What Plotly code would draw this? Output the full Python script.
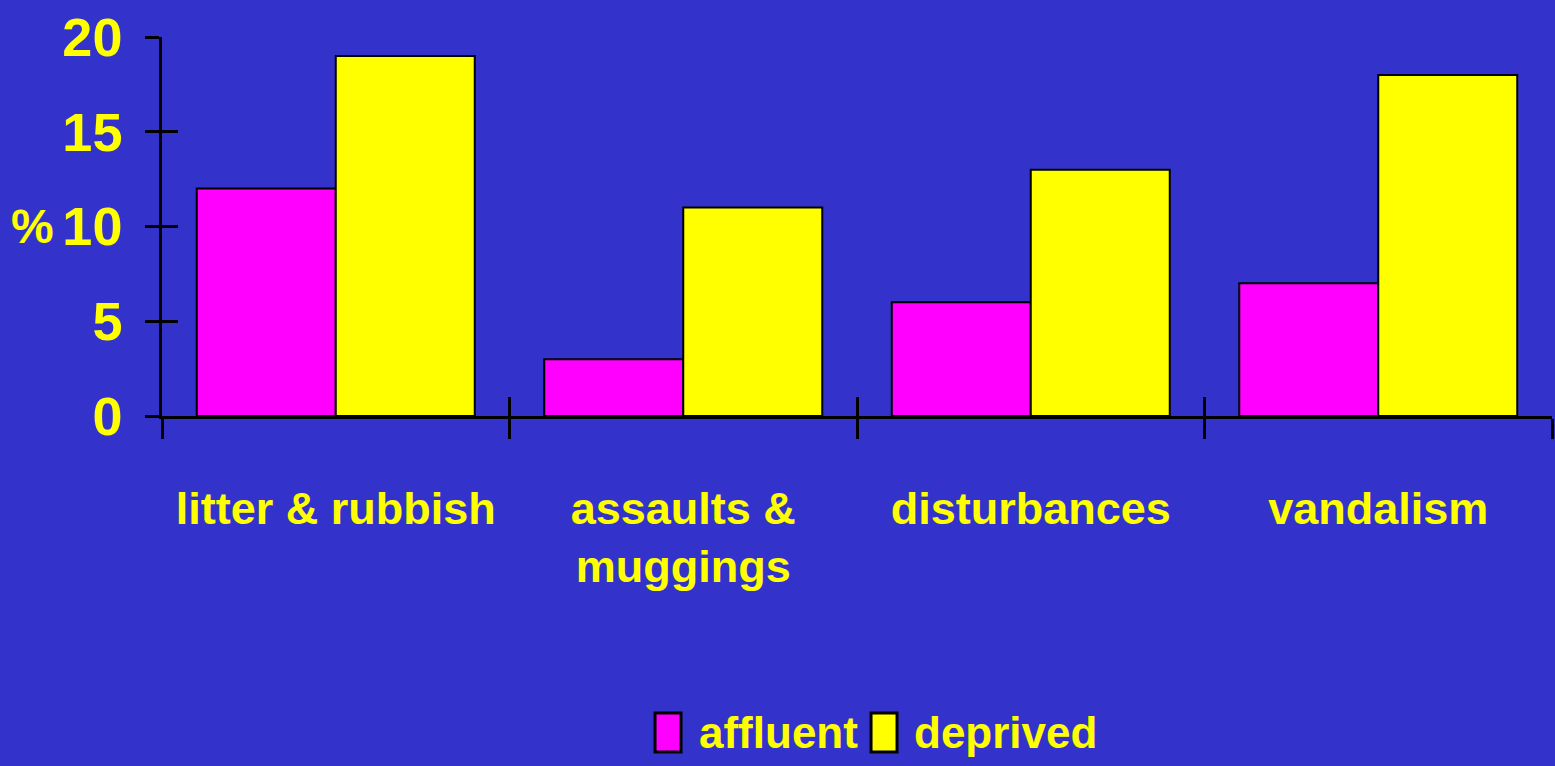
import plotly.graph_objects as go

categories = ["litter & rubbish", "assaults &<br>muggings", "disturbances", "vandalism"]
series_names = ["affluent", "deprived"]
affluent = [12, 3, 6, 7]
deprived = [19, 11, 13, 18]
series_values = [affluent, deprived]
series_colors = ["#FF00FF", "#FFFF00"]
y_ticks = [0, 5, 10, 15, 20]

BG = "#3333CC"
TXT = "#FFFF00"
FONT = "Liberation Sans, Arial, sans-serif"

fig = go.Figure()
for name, vals, col in zip(series_names, series_values, series_colors):
    fig.add_trace(go.Bar(
        x=categories, y=vals, name=name,
        marker=dict(color=col, line=dict(color="black", width=2)),
        showlegend=False,
    ))
# helper trace to activate overlay axes (for crossing tick marks)
fig.add_trace(go.Scatter(x=categories, y=[None] * len(categories), xaxis="x2", yaxis="y2",
                         mode="markers", showlegend=False, hoverinfo="skip"))

fig.update_layout(
    width=1555, height=766,
    paper_bgcolor=BG, plot_bgcolor=BG,
    margin=dict(l=162, r=3, t=37, b=350),
    barmode="group", bargap=0.2, bargroupgap=0,
    font=dict(family=FONT, color=TXT, size=45),
    xaxis=dict(
        type="category", categoryarray=categories, tickson="boundaries",
        ticks="outside", ticklen=20, tickwidth=2.5, tickcolor="black",
        showline=True, linecolor="black", linewidth=2.5,
        showgrid=False, zeroline=False, automargin=False, tickangle=0,
        tickfont=dict(family=FONT, size=45, color=TXT, weight="bold"),
        ticklabelstandoff=51,
    ),
    xaxis2=dict(
        overlaying="x", matches="x", type="category", tickson="boundaries",
        ticks="inside", ticklen=19, tickwidth=2.5, tickcolor="black",
        showticklabels=False, showline=False, showgrid=False, zeroline=False,
    ),
    yaxis=dict(
        range=[0, 20], tickvals=y_ticks,
        ticks="outside", ticklen=14, tickwidth=2.5, tickcolor="black",
        showline=True, linecolor="black", linewidth=2.5,
        showgrid=False, zeroline=False, automargin=False,
        tickfont=dict(family=FONT, size=54, color=TXT, weight="bold"),
        ticklabelstandoff=12,
    ),
    yaxis2=dict(
        overlaying="y", matches="y", range=[0, 20], tickvals=y_ticks,
        ticks="inside", ticklen=16, tickwidth=2.5, tickcolor="black",
        showticklabels=False, showline=False, showgrid=False, zeroline=False,
    ),
)

# "%" label next to the y axis
fig.add_annotation(text="%", xref="paper", yref="y", x=-0.0762, y=10,
                   xanchor="right", yanchor="middle", showarrow=False,
                   font=dict(family=FONT, size=48, color=TXT, weight="bold"))

# custom legend (large swatches)
legend_items = [(0.3547, 0.3849), (0.5101, 0.5396)]
for (sx, tx), name, col in zip(legend_items, series_names, series_colors):
    fig.add_shape(type="rect", xref="paper", yref="paper",
                  x0=sx, x1=sx + 0.0187, y0=-0.8865, y1=-0.7836,
                  fillcolor=col, line=dict(color="black", width=3))
    fig.add_annotation(text=name, xref="paper", yref="paper", x=tx, y=-0.836,
                       xanchor="left", yanchor="middle", showarrow=False,
                       font=dict(family=FONT, size=44, color=TXT, weight="bold"))

fig.write_html("out.html", config={"displayModeBar": False},
               post_script="document.body.style.margin='0';")
